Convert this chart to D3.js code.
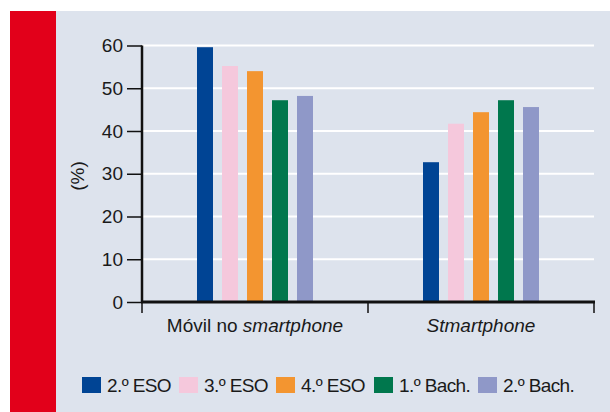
<!DOCTYPE html>
<html>
<head>
<meta charset="utf-8">
<script src="https://cdn.jsdelivr.net/npm/d3@7"></script>
<style>
  body { margin: 0; background: #fff; }
  text { font-family: "Liberation Sans", Arial, sans-serif; fill: #1a1a1a; }
</style>
</head>
<body>
<div id="chart"></div>
<script>
// data
var groups = ["Móvil no smartphone", "Stmartphone"];
var series = ["2.º ESO", "3.º ESO", "4.º ESO", "1.º Bach.", "2.º Bach."];
var colors = ["#004494", "#f5c8dc", "#f39530", "#00774d", "#8f98c8"];
var noSmart = [59.6, 55.2, 54.0, 47.2, 48.2];
var smart = [32.7, 41.7, 44.4, 47.2, 45.6];
var yTicks = [0, 10, 20, 30, 40, 50, 60];

var svgWidth = 610, svgHeight = 412;

var svg = d3.select("#chart")
  .append("svg")
  .attr("width", svgWidth)
  .attr("height", svgHeight);

// panel background + red strip
svg.append("rect")
  .attr("x", 56).attr("y", 11)
  .attr("width", svgWidth - 56).attr("height", svgHeight - 11)
  .attr("fill", "#dde3ed");
svg.append("rect")
  .attr("x", 10).attr("y", 11)
  .attr("width", 46).attr("height", svgHeight - 11)
  .attr("fill", "#e2001a");

var plot = { left: 142, right: 594, top: 45.5, bottom: 302 };

var x0 = d3.scaleBand()
  .domain(groups)
  .range([plot.left, plot.right]);

var x1 = d3.scaleBand()
  .domain(series)
  .range([0, 125])
  .paddingInner(0.36)
  .paddingOuter(0.18);

var y = d3.scaleLinear()
  .domain([0, 60])
  .range([plot.bottom, plot.top]);

// gridlines
svg.append("g")
  .selectAll("line")
  .data(yTicks.filter(d => d > 0))
  .enter()
  .append("line")
  .attr("x1", plot.left)
  .attr("x2", plot.right)
  .attr("y1", d => y(d))
  .attr("y2", d => y(d))
  .attr("stroke", "#ffffff")
  .attr("stroke-width", 2);

// bars
var table = groups.map(function(g, i) {
  var vals = i === 0 ? noSmart : smart;
  return { group: g, values: series.map((s, j) => ({ s: s, v: vals[j], c: colors[j] })) };
});

svg.append("g")
  .selectAll("g")
  .data(table)
  .enter()
  .append("g")
  .attr("transform", d => `translate(${x0(d.group) + x0.bandwidth() / 2 - 62.5}, 0)`)
  .selectAll("rect")
  .data(d => d.values)
  .enter()
  .append("rect")
  .attr("x", d => x1(d.s))
  .attr("width", x1.bandwidth())
  .attr("y", d => y(d.v))
  .attr("height", d => y(0) - y(d.v))
  .attr("fill", d => d.c);

// y axis
var leftAxis = d3.axisLeft(y).tickValues(yTicks).tickSize(15).tickPadding(4);
var gy = svg.append("g")
  .attr("transform", `translate(${plot.left}, 0)`)
  .call(leftAxis);
gy.select(".domain").attr("stroke", "#111").attr("stroke-width", 2.5)
  .attr("d", `M0,${plot.top}V${plot.bottom}`);
gy.selectAll(".tick line").attr("stroke", "#111").attr("stroke-width", 1.5);
gy.selectAll(".tick text").style("font-size", "19px").attr("fill", "#1a1a1a")
  .style("font-family", "'Liberation Sans', Arial, sans-serif");

// x axis
var gx = svg.append("g")
  .attr("transform", `translate(0, ${plot.bottom})`);
gx.append("line")
  .attr("x1", plot.left - 1).attr("x2", plot.right + 1)
  .attr("y1", 0).attr("y2", 0)
  .attr("stroke", "#111").attr("stroke-width", 3);
gx.selectAll(".sep")
  .data([plot.left, x0(groups[1]), plot.right])
  .enter()
  .append("line")
  .attr("class", "sep")
  .attr("x1", d => d).attr("x2", d => d)
  .attr("y1", 0).attr("y2", 11)
  .attr("stroke", "#111").attr("stroke-width", 1.5);

// category labels
var lab1 = svg.append("text")
  .attr("x", x0(groups[0]) + x0.bandwidth() / 2)
  .attr("y", 332)
  .attr("text-anchor", "middle")
  .style("font-size", "19px");
lab1.append("tspan").text("Móvil no ");
lab1.append("tspan").style("font-style", "italic").text("smartphone");

svg.append("text")
  .attr("x", x0(groups[1]) + x0.bandwidth() / 2)
  .attr("y", 332)
  .attr("text-anchor", "middle")
  .style("font-size", "19px")
  .style("font-style", "italic")
  .text(groups[1]);

// y label
svg.append("text")
  .attr("transform", "translate(84, 176) rotate(-90)")
  .attr("text-anchor", "middle")
  .style("font-size", "19px")
  .text("(%)");

// legend
var legendX = [82, 179, 276, 374, 478];
var legend = svg.append("g")
  .selectAll("g")
  .data(series)
  .enter()
  .append("g")
  .attr("transform", (d, i) => `translate(${legendX[i]}, 377)`);
legend.append("rect")
  .attr("width", 19).attr("height", 16)
  .attr("fill", (d, i) => colors[i]);
legend.append("text")
  .attr("x", 25).attr("y", 15)
  .style("font-size", "19px")
  .style("letter-spacing", "-0.6px")
  .text(d => d);
</script>
</body>
</html>
